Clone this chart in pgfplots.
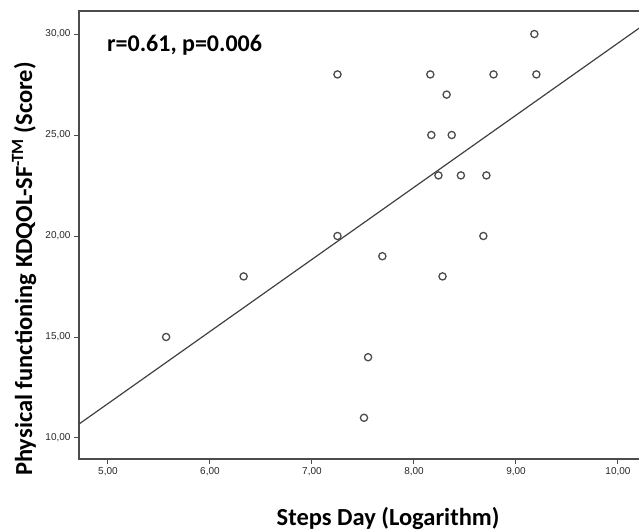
\documentclass[border=0pt]{standalone}
\usepackage{pgfplots}
\pgfplotsset{compat=1.18}
\usepackage{fontspec}
\setmainfont{Liberation Sans}
\newfontfamily\calibri{Carlito}

\begin{document}
\begin{tikzpicture}
\begin{axis}[
  scale only axis,
  width=565pt, height=448pt,
  xmin=4.716, xmax=10.255,
  ymin=8.96, ymax=31.14,
  xtick={5,6,7,8,9,10},
  ytick={10,15,20,25,30},
  tick align=outside, tick pos=left,
  major tick length=5pt,
  /pgf/number format/fixed,
  /pgf/number format/fixed zerofill,
  /pgf/number format/precision=2,
  /pgf/number format/use comma,
  /pgf/number format/assume math mode=true,
  ticklabel style={font=\fontsize{10}{11}\selectfont, text=black!85},
  axis line style={black!70, line width=1.3pt},
  tick style={black!70, line width=1pt},
  xlabel={Steps Day (Logarithm)},
  ylabel={Physical functioning KDQOL-SF\textsuperscript{-TM} (Score)},
  label style={font=\calibri\bfseries\fontsize{24.5}{28}\selectfont},
  xlabel style={at={(axis description cs:0.547,-0.132)}, anchor=center},
  ylabel style={at={(axis description cs:-0.097,0.424)}, anchor=center},
]
% observed cases
\addplot[only marks, mark=o, mark size=3.6pt, mark options={black!70, line width=1.3pt}]
  table[x=x, y=y] {
  x     y
  5.57  15
  6.33  18
  7.25  28
  7.25  20
  7.69  19
  7.55  14
  7.51  11
  8.16  28
  8.78  28
  9.20  28
  9.18  30
  8.32  27
  8.17  25
  8.37  25
  8.24  23
  8.46  23
  8.71  23
  8.68  20
  8.28  18
};
% fit line
\addplot[black!75, line width=1.2pt] coordinates {(4.716,10.69) (10.255,30.46)};
\node[anchor=west, inner sep=0pt, font=\calibri\bfseries\fontsize{24}{27}\selectfont]
  at (axis cs:4.99,29.45) {r=0.61, p=0.006};
\end{axis}
\pgfresetboundingbox
\path[use as bounding box] ([shift={(-79pt,-73pt)}]current axis.south west)
  rectangle ([shift={(-5pt,11pt)}]current axis.north east);
\end{tikzpicture}
\end{document}
